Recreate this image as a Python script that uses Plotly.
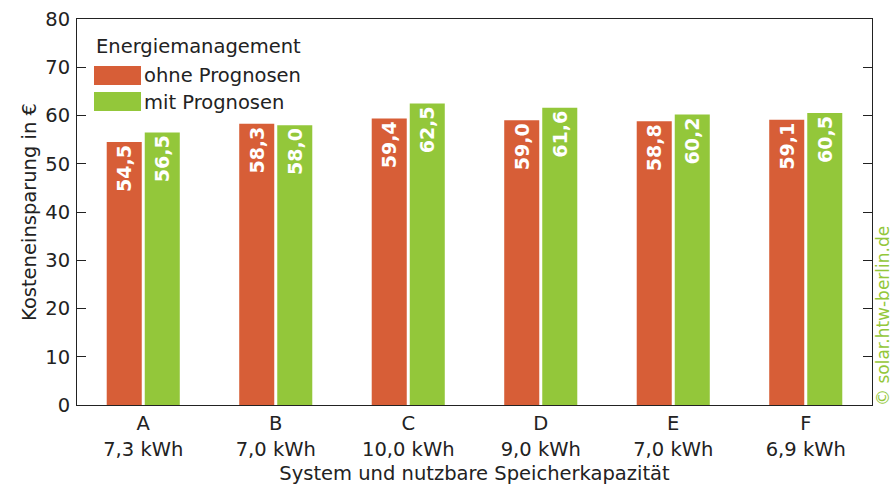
import plotly.graph_objects as go

# Cost savings per storage system, with and without forecast-based energy management
systems = ["A", "B", "C", "D", "E", "F"]
capacities = ["7,3 kWh", "7,0 kWh", "10,0 kWh", "9,0 kWh", "7,0 kWh", "6,9 kWh"]
ohne_prognosen = [54.5, 58.3, 59.4, 59.0, 58.8, 59.1]
mit_prognosen = [56.5, 58.0, 62.5, 61.6, 60.2, 60.5]

series_names = ["ohne Prognosen", "mit Prognosen"]
colors = ["#D75E37", "#93C73A"]

FONT = "DejaVu Sans"
INK = "#222222"
FS = 19.5

tick_text = [f"{s}<br>{c}" for s, c in zip(systems, capacities)]

fig = go.Figure()
for name, vals, col in zip(series_names, [ohne_prognosen, mit_prognosen], colors):
    fig.add_trace(go.Bar(
        x=systems, y=vals, name=name,
        marker=dict(color=col, line=dict(width=0)),
        texttemplate="%{y:.1f}",
        textposition="inside",
        insidetextanchor="end",
        textangle=-90,
        insidetextfont=dict(family=FONT, size=19, color="white", weight="bold"),
        showlegend=False,
        hoverinfo="x+y+name",
    ))

W, H = 894, 485
ml, mr, mt, mb = 77, 22, 19, 80
pw, ph = W - ml - mr, H - mt - mb


def px(xp):
    return (xp - ml) / pw


def py(yp):
    return (H - mb - yp) / ph


# Legend drawn as swatches with labels inside the plot area
shapes = []
annotations = [dict(
    xref="paper", yref="paper", x=px(94), y=py(46), xanchor="left", yanchor="middle",
    text="Energiemanagement", showarrow=False,
    font=dict(family=FONT, size=FS, color=INK),
)]
for i, (name, col) in enumerate(zip(series_names, colors)):
    top = 66 + i * 26
    shapes.append(dict(
        type="rect", xref="paper", yref="paper",
        x0=px(94), x1=px(141), y0=py(top + 19), y1=py(top),
        fillcolor=col, line=dict(width=0),
    ))
    annotations.append(dict(
        xref="paper", yref="paper", x=px(142), y=py(top + 10), xanchor="left", yanchor="middle",
        text=name, showarrow=False,
        font=dict(family=FONT, size=FS, color=INK),
    ))

annotations.append(dict(
    xref="paper", yref="paper", x=px(883), y=py(316), xanchor="center", yanchor="middle",
    text="© solar.htw-berlin.de", textangle=-90, showarrow=False,
    font=dict(family=FONT, size=17, color=colors[1]),
))

fig.update_layout(
    width=W, height=H,
    margin=dict(l=ml, r=mr, t=mt, b=mb, autoexpand=False),
    paper_bgcolor="white", plot_bgcolor="white",
    separators=",.",
    barmode="group",
    bargap=0.426,
    bargroupgap=0.079,
    font=dict(family=FONT, size=FS, color=INK),
    shapes=shapes,
    annotations=annotations,
    xaxis=dict(
        tickmode="array", tickvals=systems, ticktext=tick_text,
        showline=True, linecolor=INK, linewidth=1, mirror=True,
        ticks="", showgrid=False, ticklabelstandoff=1,
        tickfont=dict(family=FONT, size=FS, color=INK),
        title=dict(text="System und nutzbare Speicherkapazität", standoff=10,
                   font=dict(family=FONT, size=FS, color=INK)),
        automargin=False,
    ),
    yaxis=dict(
        range=[0, 80], dtick=10, tick0=0,
        showline=True, linecolor=INK, linewidth=1, mirror="ticks",
        ticks="inside", ticklen=9, tickcolor=INK, tickwidth=1,
        showgrid=False, zeroline=False,
        ticklabelstandoff=2,
        tickfont=dict(family=FONT, size=FS, color=INK),
        title=dict(text="Kosteneinsparung in €", standoff=3,
                   font=dict(family=FONT, size=FS, color=INK)),
        automargin=False,
    ),
)

fig.write_html("out.html")
